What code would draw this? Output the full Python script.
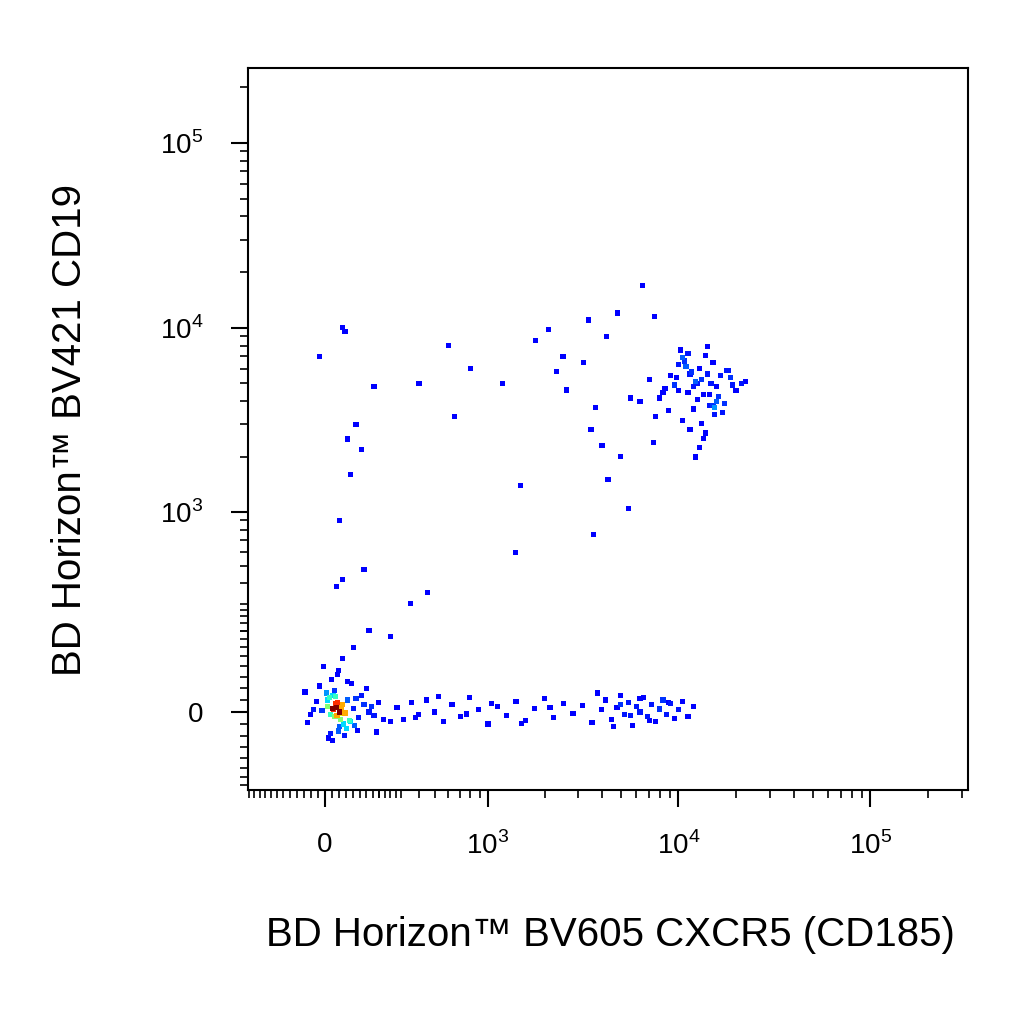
import numpy as np, pandas as pd, matplotlib
matplotlib.use("Agg")
import matplotlib.pyplot as plt, seaborn as sns
from matplotlib.colors import ListedColormap
sns.set_style("white")
plt.rcParams['font.family'] = ['Liberation Sans', 'DejaVu Sans']
plt.rcParams['mathtext.fontset'] = 'custom'
plt.rcParams['mathtext.rm'] = 'Liberation Sans'
plt.rcParams['text.color'] = 'black'
plt.rcParams['xtick.color'] = 'black'
plt.rcParams['ytick.color'] = 'black'

up_lx = [4.10,4.05,4.15,4.20,4.00,3.95,4.12,4.08,4.18,4.25,4.02,3.90,4.22,4.30,4.14,4.06,3.98,4.11,4.16,4.09,4.03,4.19,4.27,3.93,4.13,4.07,4.21,4.01,3.88,4.17,4.24,4.04,4.10,3.96,4.12,4.28,4.15,4.00,4.08,3.85,4.18,4.23,4.06,3.92,4.14,4.33,3.80,4.02,4.20,4.11,3.75,4.26,4.09,3.99,4.16,4.05,4.13,4.35,3.87,4.19]
up_ly = [3.70,3.65,3.75,3.60,3.80,3.55,3.72,3.68,3.58,3.77,3.50,3.62,3.74,3.66,3.85,3.45,3.69,3.78,3.64,3.71,3.82,3.57,3.73,3.67,3.40,3.76,3.63,3.88,3.52,3.70,3.59,3.79,3.61,3.74,3.48,3.69,3.90,3.66,3.56,3.72,3.81,3.54,3.75,3.65,3.43,3.70,3.60,3.84,3.68,3.35,3.62,3.77,3.30,3.73,3.58,3.86,3.64,3.71,3.38,3.53]
core_x = [30,40,50,20,60,35,45,25,55,10,70,80,-10,90,15,65,38,42,28,52,100,120,-30,5,75,140,-50,110,33,47,160,-20,85,18,58,130,-60,95,180,22,68,200,-40,105,150,12,43,62,37,27,170,-70,115,48,220,8,78,190,-5,250]
core_y = [5,10,0,-5,15,-10,20,8,-15,12,-2,25,3,-20,30,-25,18,-8,35,-30,7,-12,22,40,-35,15,-5,28,45,-40,0,55,-18,-45,10,35,-22,60,-8,70,-50,20,5,-28,50,-55,80,-3,32,-60,12,42,-38,90,-15,25,65,-42,100,-20]
band_lx = [2.45,2.5,2.55,2.6,2.65,2.7,2.75,2.8,2.85,2.9,2.95,3.0,3.05,3.1,3.15,3.2,3.25,3.3,3.35,3.4,3.45,3.5,3.55,3.6,3.62,3.65,3.68,3.7,3.72,3.74,3.76,3.78,3.8,3.82,3.84,3.86,3.88,3.9,3.92,3.94,3.96,3.98,4.0,4.02,4.05,4.08,3.58,3.66,3.7,3.75,3.8,3.85,3.9,3.95,2.58,2.72,2.88,3.02,3.18,3.33]
band_y = [10,-15,20,-5,25,0,-20,15,-10,30,5,-25,12,-8,22,-18,8,28,-12,18,-3,14,-22,6,25,-15,10,35,-5,20,-28,12,0,30,-10,16,-20,8,25,-6,18,-14,5,22,-10,12,40,-30,15,-8,28,-18,6,20,-12,32,-4,18,-24,10]
sc_x = [-20,60,70,80,50,90,110,130,60,140,180,400,600,650,800,1200,1500,1800,2100,2300,2600,3200,3700,3500,3400,4200,4800,5500,6500,7500,4000,2500,1400,350,450,250,160,100,60,40,5000,3600,4300]
sc_y = [7000,10000,9500,2500,900,1600,3000,2200,420,480,4800,5000,8000,3300,6000,5000,1400,8500,9800,5800,4600,6500,3700,2800,11000,9000,12000,1050,17000,11500,2300,7000,600,300,350,180,200,150,120,380,2000,750,1500]

CX, CY = 289.0, 167.0
fx = (lambda v: np.arcsinh(np.asarray(v)/CX), lambda t: CX*np.sinh(t))
fy = (lambda v: np.arcsinh(np.asarray(v)/CY), lambda t: CY*np.sinh(t))

x = np.concatenate([10**np.array(up_lx), core_x, 10**np.array(band_lx), sc_x]).astype(float)
y = np.concatenate([10**np.array(up_ly), core_y, band_y, sc_y]).astype(float)
tx, ty = fx[0](x), fy[0](y)
d = np.hypot(tx[:, None]-tx[None], ty[:, None]-ty[None])
dens = (d < 0.13).sum(1).astype(float)
df = pd.DataFrame(dict(x=x, y=y, d=dens)).sort_values('d')

jet = matplotlib.colormaps['jet']
cmap = ListedColormap(jet(0.11 + 0.89*np.linspace(0, 1, 256)**2.2))

fig = plt.figure(figsize=(10.24, 10.24), dpi=100)
ax = fig.add_axes([248/1024, 1-790/1024, 720/1024, 722/1024])
ax.set_xscale('function', functions=fx)
ax.set_yscale('function', functions=fy)
sns.scatterplot(data=df, x='x', y='y', hue='d', palette=cmap, hue_norm=(1, dens.max()),
                s=14, linewidth=0, marker='s', legend=False, ax=ax)

def minors(lo_neg):
    m = list(np.arange(-lo_neg, 300, 25))
    for dec in [100, 1000, 10000, 100000]:
        m += [k*dec for k in range(2, 10)]
    return m
ax.set_xticks([0, 1e3, 1e4, 1e5])
ax.set_xticklabels(['0', '$10^3$', '$10^4$', '$10^5$'])
ax.set_yticks([0, 1e3, 1e4, 1e5])
ax.set_yticklabels(['0', '$10^3$', '$10^4$', '$10^5$'])
ax.set_xticks(minors(300), minor=True)
ax.set_yticks(minors(175), minor=True)
ax.set_xlim(-306, 322000)
ax.set_ylim(-189, 254000)
ax.tick_params(which='major', direction='out', length=12, width=1.5, labelsize=20, bottom=True, left=True)
ax.tick_params(which='minor', direction='out', length=6, width=1.2, bottom=True, left=True)
ax.tick_params(axis='x', which='major', pad=18)
ax.tick_params(axis='y', which='major', pad=20)
for s in ax.spines.values():
    s.set_color('black'); s.set_linewidth(1.5)
ax.set_xlabel(''); ax.set_ylabel('')
fig.text(610/1024, 1-935/1024, 'BD Horizon™ BV605 CXCR5 (CD185)', ha='center', va='center', fontsize=29)
fig.text(70/1024, 1-430/1024, 'BD Horizon™ BV421 CD19', ha='center', va='center', rotation=90, fontsize=29)
fig.savefig('out.png', dpi=100)
